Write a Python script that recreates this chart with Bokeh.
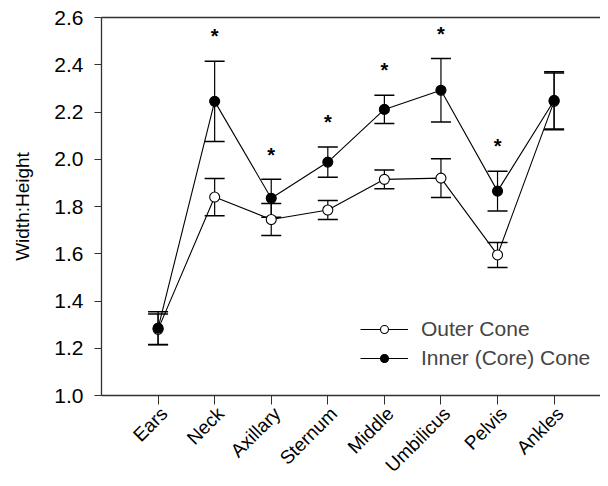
from bokeh.plotting import figure
from bokeh.models import (Range1d, FixedTicker, LinearAxis, Whisker, TeeHead,
                          ColumnDataSource, Legend, LegendItem, PrintfTickFormatter)
from bokeh.embed import file_html
from bokeh.resources import INLINE
from bokeh.core.properties import value
import math

categories = ["Ears", "Neck", "Axillary", "Sternum", "Middle", "Umbilicus", "Pelvis", "Ankles"]
outer_mean = [1.28, 1.84, 1.745, 1.785, 1.915, 1.92, 1.595, 2.245]
outer_err = [0.065, 0.079, 0.068, 0.04, 0.04, 0.082, 0.053, 0.12]
inner_mean = [1.285, 2.245, 1.835, 1.988, 2.211, 2.292, 1.865, 2.249]
inner_err = [0.069, 0.17, 0.08, 0.064, 0.06, 0.134, 0.084, 0.121]
significant = [False, True, True, True, True, True, True, False]
y_ticks = [1.0, 1.2, 1.4, 1.6, 1.8, 2.0, 2.2, 2.4, 2.6]

FONT = "Liberation Sans"
AX = "#303030"

xs = list(range(1, len(categories) + 1))

p = figure(width=600, height=478, output_backend="svg", toolbar_location=None,
           x_range=Range1d(0, 8.82), y_range=Range1d(1.0, 2.6),
           x_axis_location="below", min_border_left=101, min_border_right=0,
           min_border_top=17, min_border_bottom=83)
p.outline_line_color = None
p.grid.visible = False
p.background_fill_color = "white"
p.border_fill_color = "white"

# x axis (ticks only; category names drawn as rotated text below it)
xa = p.xaxis[0]
xa.ticker = FixedTicker(ticks=xs)
xa.major_label_overrides = {x: "" for x in xs}
xa.major_label_standoff = 0
xa.major_tick_in = 0
xa.major_tick_out = 9
xa.minor_tick_line_color = None
xa.axis_line_color = AX
xa.major_tick_line_color = AX
xa.axis_line_width = 1.3

csrc = ColumnDataSource(dict(x=xs, y=[p.y_range.start] * len(xs), t=categories))
p.text(x="x", y="y", text="t", source=csrc, level="overlay",
       x_offset=6, y_offset=15, angle=math.pi / 4,
       text_align="right", text_baseline="middle",
       text_font=value(FONT), text_font_size="19px", text_color="black")

# y axis
ya = p.yaxis[0]
ya.ticker = FixedTicker(ticks=y_ticks)
ya.formatter = PrintfTickFormatter(format="%.1f")
ya.major_label_text_font = FONT
ya.major_label_text_font_size = "21px"
ya.major_label_text_color = "black"
ya.major_label_standoff = 11
ya.major_tick_in = 0
ya.major_tick_out = 7
ya.minor_tick_line_color = None
ya.axis_line_color = AX
ya.major_tick_line_color = AX
ya.axis_line_width = 1.3
ya.axis_label = "Width:Height"
ya.axis_label_text_font = FONT
ya.axis_label_text_font_style = "normal"
ya.axis_label_text_font_size = "19px"
ya.axis_label_text_color = "black"
ya.axis_label_standoff = 18

# top frame line
top = LinearAxis(ticker=FixedTicker(ticks=[]),
                 major_tick_line_color=None, minor_tick_line_color=None,
                 axis_line_color=AX, axis_line_width=1.3)
p.add_layout(top, "above")

# error bars
osrc = ColumnDataSource(dict(x=xs, m=outer_mean,
                             up=[m + e for m, e in zip(outer_mean, outer_err)],
                             lo=[m - e for m, e in zip(outer_mean, outer_err)]))
isrc = ColumnDataSource(dict(x=xs, m=inner_mean,
                             up=[m + e for m, e in zip(inner_mean, inner_err)],
                             lo=[m - e for m, e in zip(inner_mean, inner_err)]))
for src in (osrc, isrc):
    w = Whisker(source=src, base="x", upper="up", lower="lo", dimension="height",
                line_color="black", line_width=1.2, level="underlay",
                upper_head=TeeHead(size=20, line_color="black", line_width=1.5),
                lower_head=TeeHead(size=20, line_color="black", line_width=1.5))
    p.add_layout(w)

ol = p.line("x", "m", source=osrc, line_color="black", line_width=1.1)
op = p.scatter("x", "m", source=osrc, marker="circle", size=10,
               fill_color="white", line_color="black", line_width=1.1)
il = p.line("x", "m", source=isrc, line_color="black", line_width=1.1)
ip = p.scatter("x", "m", source=isrc, marker="circle", size=10,
               fill_color="black", line_color="black", line_width=1.1)

# significance stars
sx = [x for x, s in zip(xs, significant) if s]
sy = [m + e + 0.105 for m, e, s in zip(inner_mean, inner_err, significant) if s]
p.text(x=sx, y=sy, text=["*"] * len(sx), text_font=value(FONT), text_font_size="20px",
       text_font_style="bold", text_align="center", text_baseline="middle",
       text_color="black")

legend = Legend(items=[LegendItem(label="Outer Cone", renderers=[ol, op]),
                       LegendItem(label="Inner (Core) Cone", renderers=[il, ip])],
                location=(259, 25), glyph_width=48, glyph_height=20,
                label_text_font=FONT, label_text_font_size="21px",
                label_standoff=13, padding=0, margin=0, spacing=5,
                border_line_color=None, background_fill_alpha=0)
p.add_layout(legend, "center")

open("out.html", "w").write(file_html(p, INLINE))
